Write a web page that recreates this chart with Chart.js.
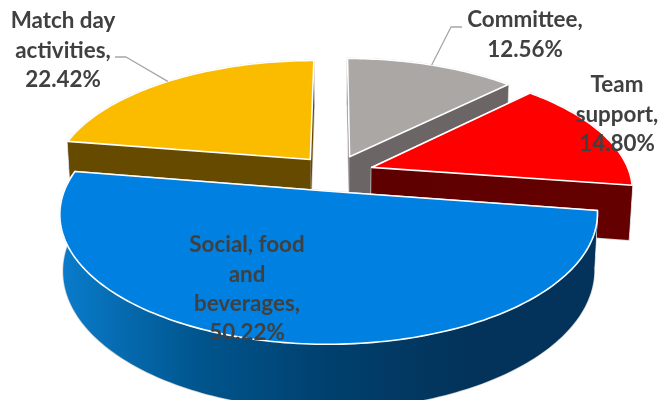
<!DOCTYPE html>
<html>
<head>
<meta charset="utf-8">
<title>Spending by category</title>
<script src="https://cdn.jsdelivr.net/npm/chart.js@4"></script>
<style>
  html, body { margin: 0; padding: 0; background: #fff; }
  canvas { display: block; }
</style>
</head>
<body>
<canvas id="pie" width="660" height="400"></canvas>
<script>
// Chart data
const categories = ['Social, food and beverages', 'Match day activities', 'Committee', 'Team support'];
const shares = [50.22, 22.42, 12.56, 14.80];

// Slice colours
const topColors = ['#0080e0', '#fbbc00', '#aba7a5', '#ff0000'];
const wallColors = [
    ['#0a7ccc', '#00568f', '#00406e', '#03335a', '#03335a'],
    ['#654a00', '#654a00'],
    ['#6b6665', '#6b6665'],
    ['#560000', '#640000']
];

// Data label text, wrapped by hand
const labelLines = [
    ['Social, food', 'and', 'beverages,'],
    ['Match day', 'activities,'],
    ['Committee,'],
    ['Team', 'support,']
];
const labelCenters = [[247, 245], [63, 21], [525, 20], [617, 85]];
const labelLineHeight = 29.3;
const leaderStarts = [null, [[115, 57], [126, 57]], [[462, 27], [451, 27]], null];

// 3D view of the pie
const view = { shiftX: 5, shiftY: -27, spreadX: 258, spreadY: 120, perspective: -0.17, depth: 54, taper: 0.012 };

function project(u, v, z) {
    const w = 1 + view.perspective * v;
    const taper = 1 - view.taper * z;
    return {
        x: 330 + view.shiftX + view.spreadX * u / w * taper,
        y: 200 + view.shiftY + (view.spreadY * v * taper + view.depth * z) / w
    };
}

// Walks one slice in plane coordinates, radius 1 = the pie's outer radius
function sliceGeometry(arc) {
    const mid = (arc.startAngle + arc.endAngle) / 2;
    const off = arc.options.offset / arc.outerRadius;
    const ox = Math.cos(mid) * off;
    const oy = Math.sin(mid) * off;
    const steps = Math.ceil((arc.endAngle - arc.startAngle) / 0.02);
    const rim = [];
    for (let i = 0; i <= steps; i++) {
        const a = arc.startAngle + (arc.endAngle - arc.startAngle) * i / steps;
        rim.push([ox + Math.cos(a), oy + Math.sin(a)]);
    }
    return { mid, apex: [ox, oy], rim, off };
}

function tracePolygon(ctx, points) {
    ctx.beginPath();
    points.forEach((p, i) => {
        if (i === 0) ctx.moveTo(p.x, p.y);
        else ctx.lineTo(p.x, p.y);
    });
    ctx.closePath();
}

function drawSlice(ctx, arc, index) {
    const geo = sliceGeometry(arc);
    const at = (p, z) => project(p[0], p[1], z);
    const first = geo.rim[0];
    const last = geo.rim[geo.rim.length - 1];

    const walls = [
        [at(geo.apex, 0), at(first, 0), at(first, 1), at(geo.apex, 1)],
        [at(geo.apex, 0), at(last, 0), at(last, 1), at(geo.apex, 1)],
        geo.rim.map(p => at(p, 0)).concat(geo.rim.slice().reverse().map(p => at(p, 1)))
    ];

    const stops = wallColors[index];
    const gradient = ctx.createLinearGradient(60, 0, 600, 0);
    stops.forEach((c, i) => gradient.addColorStop(i / (stops.length - 1), c));

    // pale halo around the solid, the fill then hides its inner half
    ctx.lineJoin = 'round';
    ctx.strokeStyle = '#d0d0d0';
    ctx.lineWidth = 1.5;
    walls.forEach(poly => { tracePolygon(ctx, poly); ctx.stroke(); });
    ctx.fillStyle = gradient;
    walls.forEach(poly => { tracePolygon(ctx, poly); ctx.fill(); });

    const top = [at(geo.apex, 0)].concat(geo.rim.map(p => at(p, 0)));
    tracePolygon(ctx, top);
    ctx.fillStyle = topColors[index];
    ctx.fill();
    ctx.strokeStyle = '#ffffff';
    ctx.lineWidth = 1.6;
    ctx.stroke();
}

function drawLabels(ctx, arcs) {
    ctx.textAlign = 'center';
    ctx.textBaseline = 'middle';
    ctx.font = 'bold 22.4px Lato';
    arcs.forEach((arc, i) => {
        const starts = leaderStarts[i];
        if (starts) {
            const geo = sliceGeometry(arc);
            const end = project(geo.apex[0] + Math.cos(geo.mid), geo.apex[1] + Math.sin(geo.mid), 0);
            ctx.beginPath();
            ctx.moveTo(starts[0][0], starts[0][1]);
            ctx.lineTo(starts[1][0], starts[1][1]);
            ctx.lineTo(end.x, end.y);
            ctx.strokeStyle = '#a6a6a6';
            ctx.lineWidth = 1.3;
            ctx.stroke();
        }
        const lines = labelLines[i].concat(shares[i].toFixed(2) + '%');
        ctx.fillStyle = '#404040';
        lines.forEach((line, n) => {
            ctx.fillText(line, labelCenters[i][0], labelCenters[i][1] + n * labelLineHeight);
        });
    });
}

// Replaces the flat arcs with an extruded pie, angles come from the pie controller
const pie3d = {
    id: 'pie3d',
    beforeDatasetsDraw(chart) {
        const ctx = chart.ctx;
        const arcs = chart.getDatasetMeta(0).data;
        const order = arcs.map((arc, i) => i).sort((p, q) => {
            const midP = (arcs[p].startAngle + arcs[p].endAngle) / 2;
            const midQ = (arcs[q].startAngle + arcs[q].endAngle) / 2;
            return Math.sin(midP) - Math.sin(midQ);
        });
        ctx.save();
        order.forEach(i => drawSlice(ctx, arcs[i], i));
        drawLabels(ctx, arcs);
        ctx.restore();
        return false;
    }
};

new Chart(document.getElementById('pie'), {
    type: 'pie',
    data: {
        labels: categories,
        datasets: [{
            data: shares,
            backgroundColor: topColors,
            offset: 28,
            borderWidth: 0
        }]
    },
    options: {
        responsive: false,
        animation: false,
        rotation: 98.5,
        plugins: {
            legend: { display: false },
            tooltip: { enabled: false }
        }
    },
    plugins: [pie3d]
});
</script>
</body>
</html>
